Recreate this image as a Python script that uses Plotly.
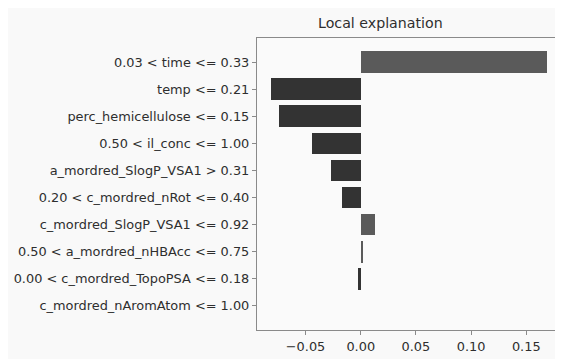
import plotly.graph_objects as go

features = [
    "0.03 < time <= 0.33",
    "temp <= 0.21",
    "perc_hemicellulose <= 0.15",
    "0.50 < il_conc <= 1.00",
    "a_mordred_SlogP_VSA1 > 0.31",
    "0.20 < c_mordred_nRot <= 0.40",
    "c_mordred_SlogP_VSA1 <= 0.92",
    "0.50 < a_mordred_nHBAcc <= 0.75",
    "0.00 < c_mordred_TopoPSA <= 0.18",
    "c_mordred_nAromAtom <= 1.00",
]
weights = [0.169, -0.0816, -0.0739, -0.0446, -0.0265, -0.0166, 0.0127, 0.0020, -0.0025, 0.0]
x_ticks = [-0.05, 0.0, 0.05, 0.10, 0.15]
x_tick_labels = ["\u22120.05", "0.00", "0.05", "0.10", "0.15"]

POS = "#5a5a5a"
NEG = "#333333"
colors = [POS if w > 0 else NEG for w in weights]

fig = go.Figure(go.Bar(
    x=weights, y=features, orientation="h", width=0.8,
    marker=dict(color=colors, line=dict(width=0)),
))

font = dict(family="DejaVu Sans", size=12.9, color="#2e2e2e")
axis_col = "#8a8a8a"

fig.update_layout(
    width=563, height=359,
    margin=dict(l=249, r=10, t=30, b=37, autoexpand=False),
    paper_bgcolor="#f9f9f9",
    plot_bgcolor="#fafafa",
    showlegend=False,
    font=font,
    bargap=0,
    annotations=[dict(text="Local explanation", xref="paper", yref="paper",
                      x=(372 - 249) / 304, y=1.0, yshift=5,
                      xanchor="center", yanchor="bottom", showarrow=False,
                      font=dict(family="DejaVu Sans", size=14.2, color="#2e2e2e"))],
)
fig.update_xaxes(
    range=[-0.094, 0.1815], tickvals=x_ticks, ticktext=x_tick_labels,
    showgrid=False, zeroline=False, showline=True, linecolor=axis_col, linewidth=1.2,
    mirror=True, ticks="outside", ticklen=4, tickcolor=axis_col, tickfont=font,
    automargin=False,
)
fig.update_yaxes(
    range=[9.89, -0.89], showgrid=False, zeroline=False,
    showline=True, linecolor=axis_col, linewidth=1.2, mirror=True,
    ticks="outside", ticklen=4, tickcolor=axis_col, tickfont=font,
    automargin=False,
)

fig.write_html("out.html")
